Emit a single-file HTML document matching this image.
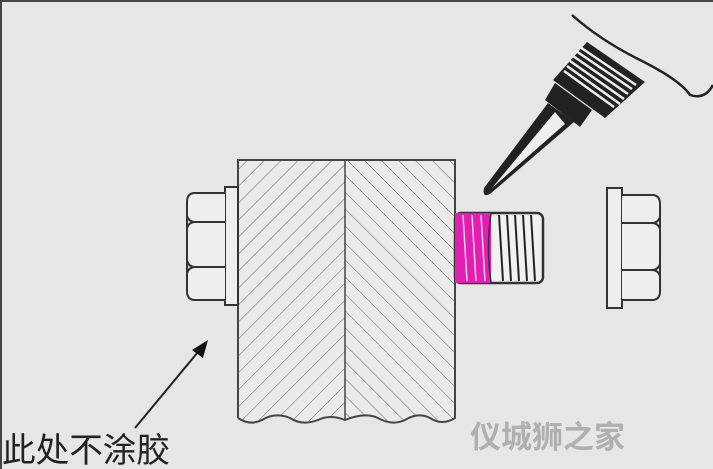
<!DOCTYPE html>
<html><head><meta charset="utf-8"><style>
html,body{margin:0;padding:0;}
body{width:713px;height:469px;overflow:hidden;background:#e6e6e6;}
svg{position:absolute;left:0;top:0;}
</style></head><body>
<svg width="713" height="469" viewBox="0 0 713 469" xmlns="http://www.w3.org/2000/svg">
<defs>
<pattern id="hl" patternUnits="userSpaceOnUse" width="12" height="12" patternTransform="rotate(45)">
<line x1="0" y1="0" x2="0" y2="12" stroke="#555" stroke-width="0.9"/></pattern>
<pattern id="hr" patternUnits="userSpaceOnUse" width="12" height="12" patternTransform="rotate(-45)">
<line x1="0" y1="0" x2="0" y2="12" stroke="#555" stroke-width="0.9"/></pattern>
<clipPath id="cl"><path d="M238 160 H345 V420 Q330 414 318 420 Q302 426 290 418 Q275 412 262 420 Q250 426 238 418 Z"/></clipPath>
<clipPath id="cr"><path d="M345 160 H455 V418 Q442 426 430 418 Q418 412 405 420 Q392 426 378 418 Q365 412 345 420 Z"/></clipPath>
</defs>
<rect x="0" y="0" width="713" height="469" fill="#e6e6e6"/>
<line x1="0" y1="1" x2="713" y2="1" stroke="#444" stroke-width="2"/>
<line x1="1" y1="0" x2="1" y2="469" stroke="#444" stroke-width="2"/>
<rect x="238" y="160" width="107" height="262" fill="#eaeaea" clip-path="url(#cl)"/>
<rect x="238" y="160" width="107" height="262" fill="url(#hl)" clip-path="url(#cl)"/>
<rect x="345" y="160" width="110" height="262" fill="#eaeaea" clip-path="url(#cr)"/>
<rect x="345" y="160" width="110" height="262" fill="url(#hr)" clip-path="url(#cr)"/>
<path d="M238 418 V160 H455 V418 Q442 426 430 418 Q418 412 405 420 Q392 426 378 418 Q365 412 345 420 Q330 414 318 420 Q302 426 290 418 Q275 412 262 420 Q250 426 238 418" fill="none" stroke="#444" stroke-width="2"/>
<line x1="345" y1="160" x2="345" y2="420" stroke="#444" stroke-width="1.5"/>
<rect x="225" y="187" width="13" height="118" fill="#eee" stroke="#333" stroke-width="2"/>
<path d="M225 193 H195 Q187 193 187 202 V291 Q187 300 195 300 H225" fill="#eee" stroke="#333" stroke-width="2"/>
<path d="M225 222 H195 Q189 222 187 216 M195 222 Q189 222 187 228" fill="none" stroke="#333" stroke-width="2"/>
<path d="M225 267 H195 Q189 267 187 261 M195 267 Q189 267 187 273" fill="none" stroke="#333" stroke-width="2"/>
<rect x="455" y="213" width="88" height="70" rx="6" fill="#f0f0f0" stroke="#333" stroke-width="2.5"/>
<rect x="455" y="213" width="36" height="70" fill="#e21fb0"/>
<g stroke="#222" stroke-width="2">
<line x1="499" y1="215" x2="503" y2="281"/><line x1="507" y1="215" x2="511" y2="281"/>
<line x1="515" y1="215" x2="519" y2="281"/><line x1="523" y1="215" x2="527" y2="281"/>
<line x1="531" y1="215" x2="535" y2="281"/>
</g>
<g stroke="#fff" stroke-width="1.5" opacity="0.8">
<line x1="463" y1="215" x2="467" y2="281"/><line x1="472" y1="215" x2="476" y2="281"/><line x1="481" y1="215" x2="485" y2="281"/>
</g>
<path d="M491 213 Q486 248 491 283" stroke="#333" stroke-width="1.5" fill="none"/>
<rect x="607" y="188" width="15" height="120" fill="#eee" stroke="#333" stroke-width="2"/>
<path d="M622 195 H652 Q660 195 660 204 V291 Q660 300 652 300 H622" fill="#eee" stroke="#333" stroke-width="2"/>
<path d="M622 223 H652 Q658 223 660 217 M652 223 Q658 223 660 229" fill="none" stroke="#333" stroke-width="2"/>
<path d="M622 270 H652 Q658 270 660 264 M652 270 Q658 270 660 276" fill="none" stroke="#333" stroke-width="2"/>
<path d="M572 15 Q600 40 640 60 Q680 80 690 95 Q705 100 713 85" fill="none" stroke="#222" stroke-width="2.5"/>
<path d="M553 80 L587 42 L645 82 L605 118 Z" fill="#222"/>
<g stroke="#eee" stroke-width="2.5">
<line x1="573" y1="56" x2="628" y2="94"/><line x1="570" y1="61" x2="624" y2="99"/>
<line x1="567" y1="66" x2="620" y2="104"/><line x1="564" y1="71" x2="614" y2="107"/>
<line x1="576" y1="51" x2="632" y2="89"/><line x1="580" y1="47" x2="636" y2="85"/>
</g>
<path d="M545 100 L555 83 L592 110 L580 127 Z" fill="#222"/>
<path d="M548 103 L484 188 Q482 198 490 194 L574 122 Z" fill="#222"/>
<path d="M555 112 L492 188 L565 124 Z" fill="#eee"/>
<line x1="135" y1="428" x2="198" y2="352" stroke="#222" stroke-width="2"/>
<path d="M208 340 L192 350 L203 358 Z" fill="#111"/>
<text x="2" y="462" font-family="'Liberation Sans','Noto Sans CJK SC',sans-serif" font-size="34" fill="#222" textLength="168" lengthAdjust="spacingAndGlyphs">此处不涂胶</text>
<text x="470" y="448" font-family="'Liberation Sans','Noto Sans CJK SC',sans-serif" font-size="31" font-weight="bold" fill="#b0b0b0">仪城狮之家</text>
</svg>
</body></html>
